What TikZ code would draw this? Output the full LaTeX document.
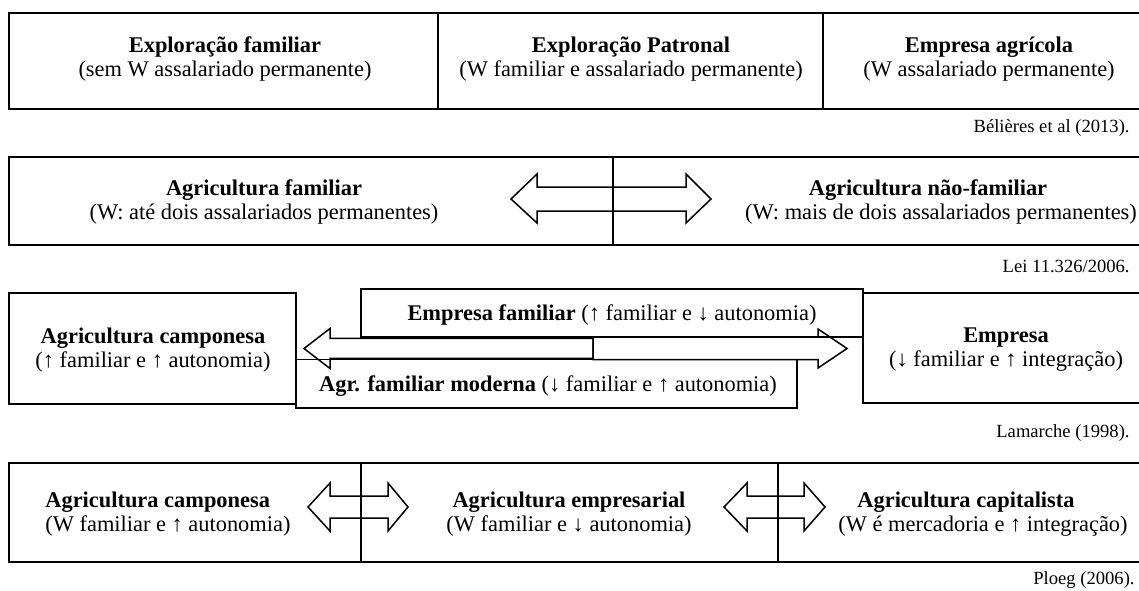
\documentclass[tikz,border=0pt]{standalone}
\usepackage{fontspec}
\setmainfont{Liberation Serif}

\tikzset{
  caixa/.style={draw=black, line width=0.9pt},
  seta/.style={draw=black, line width=0.75pt, line join=miter},
  rotulo/.style={align=center, inner sep=0pt, font=\fontsize{11.2}{12}\selectfont},
  fonte/.style={anchor=east, inner sep=0pt, font=\fontsize{9.3}{11}\selectfont},
}

\begin{document}
\begin{tikzpicture}[x=0.5pt, y=-0.5pt]
    \clip (0,0) rectangle (1139,590);
    \fill[white] (0,0) rectangle (1139,590);

    % Belieres et al (2013)
    \draw[caixa] (9,13) rectangle (1160,109);
    \draw[caixa] (438,13) -- (438,109);
    \draw[caixa] (823,13) -- (823,109);
    \node[rotulo] (expfam) at (225,59) {\textbf{Exploração familiar}\\(sem W assalariado permanente)};
    \node[rotulo] (exppat) at (631,59) {\textbf{Exploração Patronal}\\(W familiar e assalariado permanente)};
    \node[rotulo] (empagr) at (989,59) {\textbf{Empresa agrícola}\\(W assalariado permanente)};
    \node[fonte] (belieres) at (1130,128) {Bélières et al (2013).};

    % Lei 11.326/2006
    \draw[caixa] (9,157) rectangle (1160,245);
    \draw[caixa] (613,157) -- (613,245);
    \draw[seta] (511,199) -- (537,174) -- (537,187) -- (686,187) -- (686,174) -- (711,199)
        -- (686,223) -- (686,211) -- (537,211) -- (537,223) -- cycle;
    \node[rotulo] (agrfam) at (264,202) {\textbf{Agricultura familiar}\\(W: até dois assalariados permanentes)};
    \node[rotulo] (agrnfam) at (941,202) {\textbf{Agricultura não-familiar}\kern13pt\\(W: mais de dois assalariados permanentes)};
    \node[fonte] (lei) at (1130,266) {Lei 11.326/2006.};

    % Lamarche (1998)
    \draw[caixa] (9,293) rectangle (296,404);
    \draw[caixa] (361,289) rectangle (863,337);
    \draw[caixa] (296,359.5) rectangle (797,408);
    \draw[caixa] (863,293) rectangle (1160,403);
    \draw[seta] (593,337) -- (818,337) -- (818,329) -- (847,348.5) -- (818,368)
        -- (818,359.5) -- (593,359.5) -- cycle;
    \draw[seta] (304,348.5) -- (330,328.5) -- (330,338.3) -- (593,338.3) -- (593,358.3)
        -- (330,358.3) -- (330,368.5) -- cycle;
    \node[rotulo] (campon) at (153,350) {\textbf{Agricultura camponesa}\\(↑ familiar e ↑ autonomia)};
    \node[rotulo] (empfam) at (612,315) {\textbf{Empresa familiar} (↑ familiar e ↓ autonomia)};
    \node[rotulo] (agrmod) at (548,386) {\textbf{Agr. familiar moderna} (↓ familiar e ↑ autonomia)};
    \node[rotulo] (empresa) at (1006,350) {\textbf{Empresa}\\(↓ familiar e ↑ integração)};
    \node[fonte] (lamarche) at (1130,433) {Lamarche (1998).};

    % Ploeg (2006)
    \draw[caixa] (9,463) rectangle (1160,562);
    \draw[caixa] (361,463) -- (361,562);
    \draw[caixa] (778,463) -- (778,562);
    \draw[seta] (308,507) -- (330,483) -- (330,496) -- (388,496) -- (388,483) -- (408,507)
        -- (388,531) -- (388,518) -- (330,518) -- (330,531) -- cycle;
    \draw[seta] (724,507) -- (747,483) -- (747,496) -- (804,496) -- (804,483) -- (825,507)
        -- (804,531) -- (804,518) -- (747,518) -- (747,531) -- cycle;
    \node[rotulo, align=left, anchor=west] (campon2) at (45,514) {\textbf{Agricultura camponesa}\\(W familiar e ↑ autonomia)};
    \node[rotulo] (empres) at (569,514) {\textbf{Agricultura empresarial}\\(W familiar e ↓ autonomia)};
    \node[rotulo] (capital) at (983,514) {\textbf{Agricultura capitalista}\kern17pt\\(W é mercadoria e ↑ integração)};
    \node[fonte] (ploeg) at (1135,580) {Ploeg (2006).};
\end{tikzpicture}
\end{document}
